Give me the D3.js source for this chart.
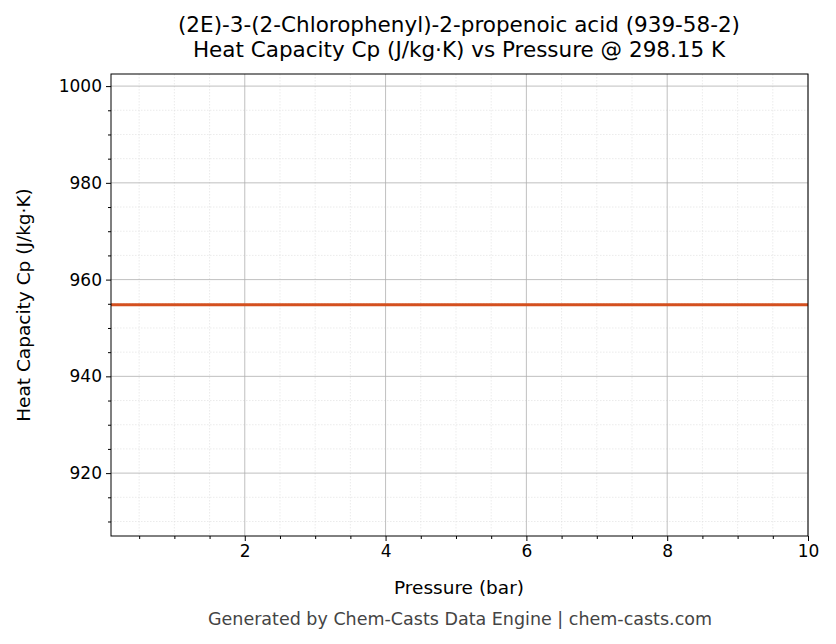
<!DOCTYPE html>
<html><head><meta charset="utf-8">
<script src="https://cdn.jsdelivr.net/npm/d3@7"></script>
<style>body{margin:0;background:#fff}text{font-family:"DejaVu Sans",sans-serif}</style>
</head><body><svg id="c" width="836" height="644"></svg>
<script>
const pressure = [0.1, 1, 2, 3, 4, 5, 6, 7, 8, 9, 10];
const cp = [954.8, 954.8, 954.8, 954.8, 954.8, 954.8, 954.8, 954.8, 954.8, 954.8, 954.8];
const xTicks = [2, 4, 6, 8, 10];
const yTicks = [920, 940, 960, 980, 1000];
const titleLines = ["(2E)-3-(2-Chlorophenyl)-2-propenoic acid (939-58-2)", "Heat Capacity Cp (J/kg·K) vs Pressure @ 298.15 K"];

const svg = d3.select("#c");
const L=111,R=808,T=74,B=536;
const x = d3.scaleLinear().domain([0.1,10]).range([L,R]);
const y = d3.scaleLinear().domain([907.0,1002.5]).range([B,T]);
const xMinor = d3.range(0.5,10.01,0.5).filter(v=>v%2!==0);
const yMinor = d3.range(910,1002,5).filter(v=>v%20!==0);
const g = svg.append("g");
g.selectAll(".xm").data(xMinor).join("line").attr("x1",d=>x(d)).attr("x2",d=>x(d)).attr("y1",T).attr("y2",B).attr("stroke","#ddd").attr("stroke-width",0.6).attr("stroke-dasharray","1.5,1.5");
g.selectAll(".ym").data(yMinor).join("line").attr("y1",d=>y(d)).attr("y2",d=>y(d)).attr("x1",L).attr("x2",R).attr("stroke","#ddd").attr("stroke-width",0.6).attr("stroke-dasharray","1.5,1.5");
g.selectAll(".xg").data(xTicks).join("line").attr("x1",d=>x(d)).attr("x2",d=>x(d)).attr("y1",T).attr("y2",B).attr("stroke","#b0b0b0").attr("stroke-width",0.8);
g.selectAll(".yg").data(yTicks).join("line").attr("y1",d=>y(d)).attr("y2",d=>y(d)).attr("x1",L).attr("x2",R).attr("stroke","#b0b0b0").attr("stroke-width",0.8);
svg.append("path").datum(pressure.map((p,i)=>[p,cp[i]])).attr("d",d3.line().x(d=>x(d[0])).y(d=>y(d[1]))).attr("fill","none").attr("stroke","#d4501f").attr("stroke-width",3);
svg.append("rect").attr("x",L).attr("y",T).attr("width",R-L).attr("height",B-T).attr("fill","none").attr("stroke","#000").attr("stroke-width",1);
svg.append("g").attr("transform",`translate(0,${B})`).call(d3.axisBottom(x).tickValues(xTicks).tickSize(5).tickPadding(4).tickFormat(d3.format("d")));
svg.append("g").attr("transform",`translate(0,${B})`).call(d3.axisBottom(x).tickValues(xMinor).tickSize(3).tickFormat(""));
svg.append("g").attr("transform",`translate(${L},0)`).call(d3.axisLeft(y).tickValues(yTicks).tickSize(5).tickPadding(4).tickFormat(d3.format("d")));
svg.append("g").attr("transform",`translate(${L},0)`).call(d3.axisLeft(y).tickValues(yMinor).tickSize(3).tickFormat(""));
svg.selectAll(".domain").remove();
svg.selectAll(".tick text").attr("font-size",17).attr("fill","#000").style("font-family","DejaVu Sans");
svg.selectAll(".tick line").attr("stroke","#000");
titleLines.forEach((t,i)=>svg.append("text").attr("x",459).attr("y",32+i*25).attr("text-anchor","middle").attr("font-size",21.5).text(t));
svg.append("text").attr("x",459).attr("y",594).attr("text-anchor","middle").attr("font-size",18.5).text("Pressure (bar)");
svg.append("text").attr("transform","translate(30,305) rotate(-90)").attr("text-anchor","middle").attr("font-size",18.5).text("Heat Capacity Cp (J/kg·K)");
svg.append("text").attr("x",460).attr("y",625).attr("text-anchor","middle").attr("font-size",17.5).attr("fill","#444").text("Generated by Chem-Casts Data Engine | chem-casts.com");
</script></body></html>
